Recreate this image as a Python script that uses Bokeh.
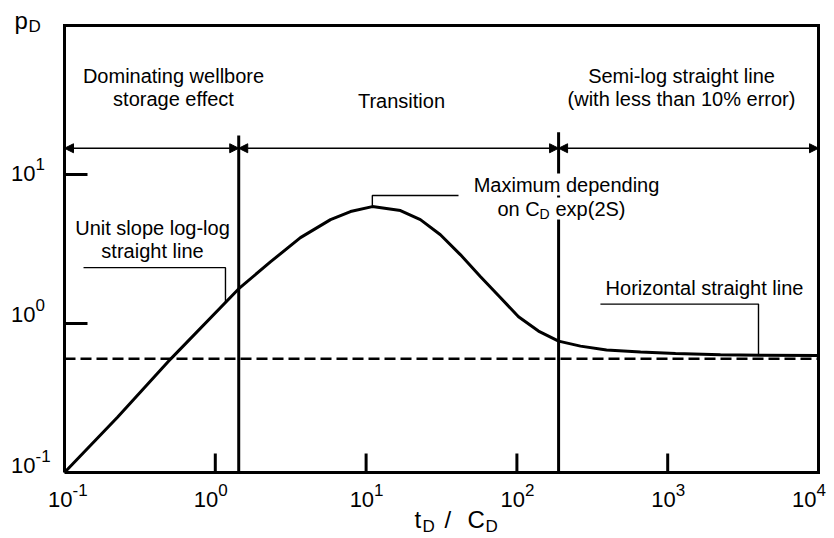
from math import log10
from bokeh.plotting import figure
from bokeh.models import Label, Arrow, NormalHead, Range1d
from bokeh.embed import file_html
from bokeh.resources import INLINE

# ---------------- data ----------------
td_cd = [0.1, 0.2246, 0.505, 1.426, 2.32, 3.67, 5.81, 7.88, 11.0, 16.9, 22.9, 31.1,
         42.3, 57.4, 77.9, 102.5, 139, 189, 264, 393, 661, 1127, 2239, 4121, 10000]
p_d = [0.1, 0.2347, 0.577, 1.706, 2.59, 3.77, 4.98, 5.64, 6.09, 5.73, 4.98, 3.94,
       2.89, 2.06, 1.49, 1.11, 0.890, 0.762, 0.705, 0.663, 0.643, 0.628, 0.618, 0.613, 0.609]

asymptote = 0.58                 # horizontal dashed line (semi-log level)
boundaries = [1.43, 189]         # regime boundaries in tD/CD
boundary_tops = [18.3, 19.2]
arrow_level = 15.0

unit_leader_x = [0.1337, 1.168, 1.168]
unit_leader_y = [2.37, 2.37, 1.40]
max_leader_x = [41.0, 11.0, 11.0]
max_leader_y = [7.23, 7.23, 6.09]
horiz_leader_x = [358, 4000, 4000]
horiz_leader_y = [1.35, 1.35, 0.614]

x_ticks = [0.1, 1, 10, 100, 1000, 10000]
x_tick_exp = ["-1", "0", "1", "2", "3", "4"]
y_ticks = [0.1, 1, 10]
y_tick_exp = ["-1", "0", "1"]

X_MIN, X_MAX = 0.1, 1e4
Y_MIN, Y_MAX = 0.1, 100

# ---------------- layout helpers ----------------
W, H = 834, 538
FL, FR, FT, FB = 64, 818, 25, 472   # plot box position in the picture


def sx(px):
    return 10 ** (log10(X_MIN) + (px - FL) / (FR - FL) * (log10(X_MAX) - log10(X_MIN)))


def sy(py):
    return 10 ** (log10(Y_MIN) + (FB - py) / (FB - FT) * (log10(Y_MAX) - log10(Y_MIN)))


def px_of_x(v):
    return FL + (log10(v) - log10(X_MIN)) / (log10(X_MAX) - log10(X_MIN)) * (FR - FL)


def px_of_y(v):
    return FB - (log10(v) - log10(Y_MIN)) / (log10(Y_MAX) - log10(Y_MIN)) * (FB - FT)


FONT = "Liberation Sans"
BIG = "20px"
SMALL = "14px"
TICK = "22px"
EXP = "17px"
TITLE = "24px"
SUB = "17px"
SHIFT = -8  # baseline correction

# the whole canvas is the frame, so that outside texts are not clipped
p = figure(width=W, height=H, x_axis_type="log", y_axis_type="log",
           x_range=Range1d(sx(0), sx(W)), y_range=Range1d(sy(H), sy(0)),
           output_backend="svg", toolbar_location=None,
           x_axis_location=None, y_axis_location=None, min_border=0)
p.background_fill_color = "white"
p.border_fill_color = "white"
p.outline_line_color = None
p.grid.visible = False

# plot box
p.line([X_MIN, X_MAX, X_MAX, X_MIN, X_MIN], [Y_MIN, Y_MIN, Y_MAX, Y_MAX, Y_MIN],
       line_color="black", line_width=3, line_join="miter")
# inward ticks
p.segment(x0=x_ticks[1:-1], y0=[Y_MIN] * 4, x1=x_ticks[1:-1], y1=[sy(FB - 19)] * 4,
          line_color="black", line_width=3)
p.segment(x0=[X_MIN] * 2, y0=y_ticks[1:], x1=[sx(FL + 23)] * 2, y1=y_ticks[1:],
          line_color="black", line_width=3)

# curve
p.line(td_cd, p_d, line_color="black", line_width=3)
# asymptote
p.line([X_MIN, X_MAX], [asymptote, asymptote], line_color="black",
       line_width=2.5, line_dash="11 5")
# regime boundaries
p.segment(x0=boundaries, y0=[Y_MIN, Y_MIN], x1=boundaries, y1=boundary_tops,
          line_color="black", line_width=3)

# arrows
edges = [X_MIN] + boundaries + [X_MAX]
for a, b in zip(edges[:-1], edges[1:]):
    p.add_layout(Arrow(start=NormalHead(size=9, fill_color="black", line_color="black"),
                       end=NormalHead(size=9, fill_color="black", line_color="black"),
                       x_start=a, y_start=arrow_level, x_end=b, y_end=arrow_level,
                       line_color="black", line_width=1.6))

# leaders
for lx, ly in ((unit_leader_x, unit_leader_y), (max_leader_x, max_leader_y),
               (horiz_leader_x, horiz_leader_y)):
    p.line(lx, ly, line_color="black", line_width=1.4)


def lab(px, py, text, size=BIG, align="center", bg=None):
    p.add_layout(Label(x=sx(px), y=sy(py + SHIFT), text=text, text_font=FONT,
                       text_font_size=size, text_align=align,
                       text_baseline="alphabetic", text_color="black",
                       background_fill_color=bg))


# region texts
lab(173, 83, "Dominating wellbore")
lab(173, 106, "storage effect")
lab(401, 108, "Transition")
lab(681, 83, "Semi-log straight line")
lab(681, 106, "(with less than 10% error)")
lab(566, 192, "Maximum depending", bg="white")
lab(497, 216, "on C", align="left", bg="white")
lab(555, 216, "exp(2S)", align="left", bg="white")
lab(539, 221, "D", size=SMALL, align="left", bg="white")
lab(152, 235, "Unit slope log-log")
lab(152, 258, "straight line")
lab(704, 295, "Horizontal straight line")

# axis titles
lab(14, 28, "p", size=TITLE, align="left")
lab(28, 34, "D", size=SUB, align="left")
lab(414, 527, "t", size=TITLE, align="left")
lab(422, 534, "D", size=SUB, align="left")
lab(444, 527, "/", size=TITLE, align="left")
lab(467, 527, "C", size=TITLE, align="left")
lab(485, 534, "D", size=SUB, align="left")

# tick labels
x_off = [8, 3, 8, 8, 8, -2]
for v, e, o in zip(x_ticks, x_tick_exp, x_off):
    xp = px_of_x(v) + o
    lab(xp, 507, "10", size=TICK, align="right")
    lab(xp, 497, e, size=EXP, align="left")

y_off = [1, -1, 7]
for v, e, o in zip(y_ticks, y_tick_exp, y_off):
    yp = px_of_y(v) + o
    lab(35, yp, "10", size=TICK, align="right")
    lab(35, yp - 10, e, size=EXP, align="left")

open("out.html", "w").write(file_html(p, INLINE))
